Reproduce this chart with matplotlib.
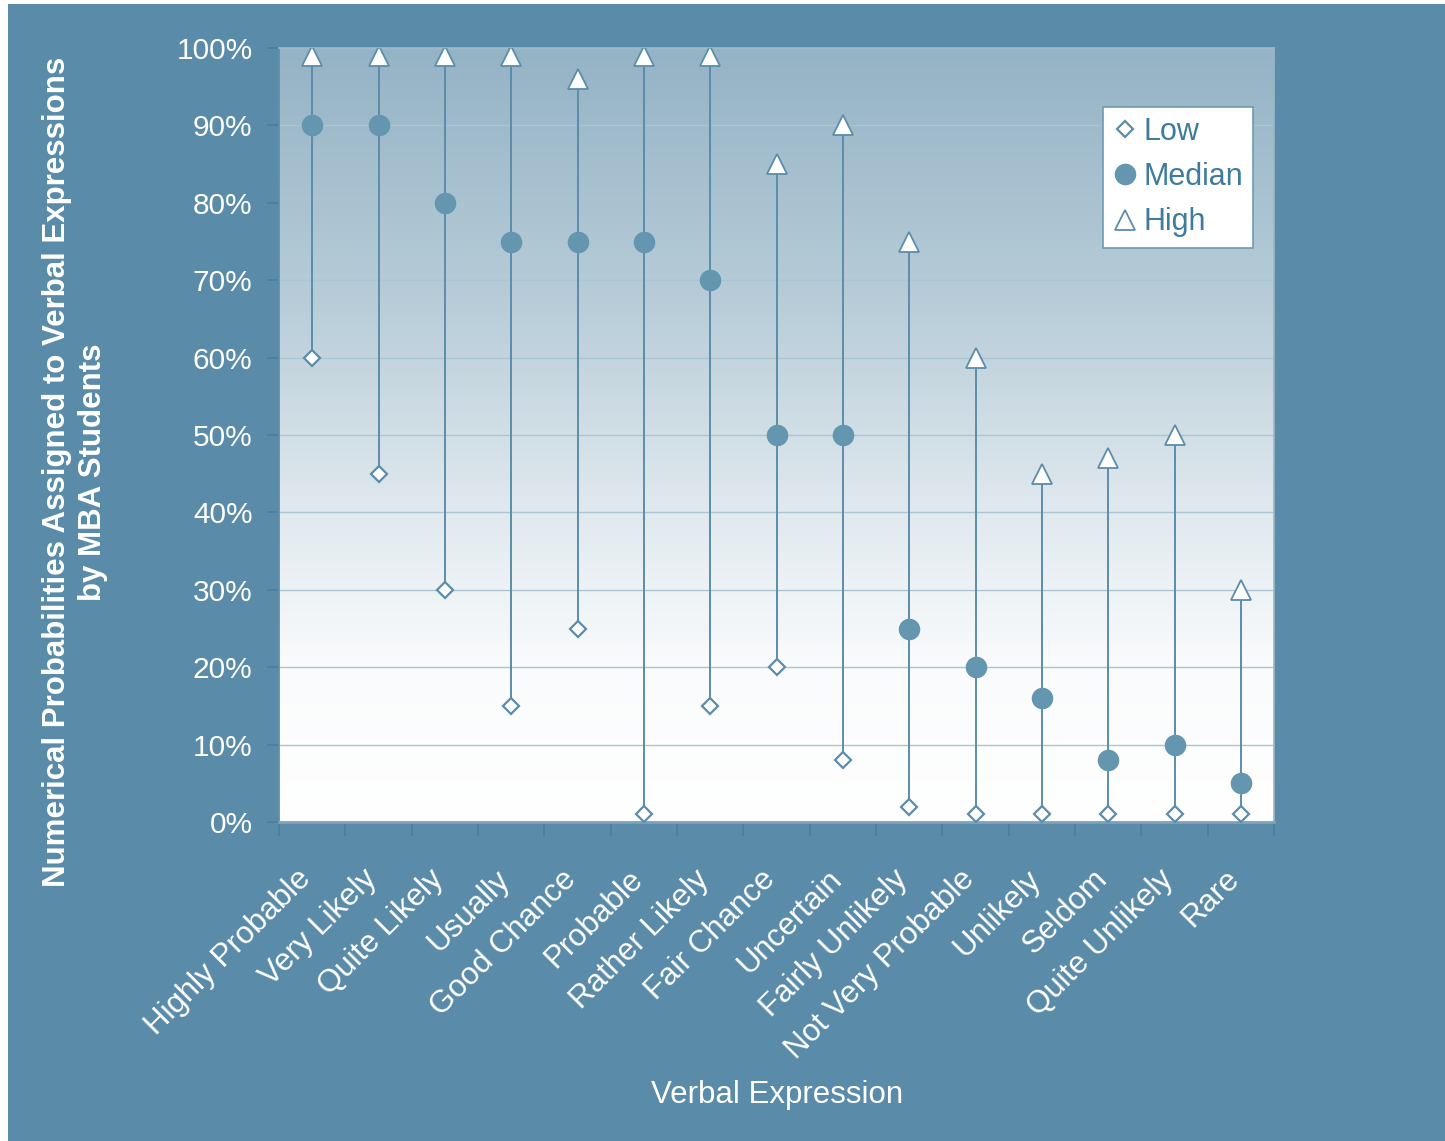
import numpy as np
import matplotlib
matplotlib.use("Agg")
import matplotlib.pyplot as plt
from matplotlib.patches import Rectangle
from matplotlib.colors import LinearSegmentedColormap
from matplotlib.ticker import FixedLocator, PercentFormatter

# data (percent)
expressions = ["Highly Probable", "Very Likely", "Quite Likely", "Usually",
               "Good Chance", "Probable", "Rather Likely", "Fair Chance",
               "Uncertain", "Fairly Unlikely", "Not Very Probable", "Unlikely",
               "Seldom", "Quite Unlikely", "Rare"]
low = [60, 45, 30, 15, 25, 1, 15, 20, 8, 2, 1, 1, 1, 1, 1]
median = [90, 90, 80, 75, 75, 75, 70, 50, 50, 25, 20, 16, 8, 10, 5]
high = [99, 99, 99, 99, 96, 99, 99, 85, 90, 75, 60, 45, 47, 50, 30]

bg = "#5a8ba8"
mark = "#5b8dab"
dot = "#6496b0"

plt.rcParams['font.family'] = ['Liberation Sans', 'DejaVu Sans']

fig = plt.figure(figsize=(14.45, 11.41), dpi=100, facecolor="white")
fig.patches.append(Rectangle((8 / 1445, 0), 1, 1137 / 1141, transform=fig.transFigure,
                             facecolor=bg, edgecolor="none", zorder=-10))

ax = fig.add_axes([279 / 1445, 319 / 1141, 995 / 1445, 774 / 1141])
ax.set_facecolor("white")

# vertical gradient for the plot area (white at the bottom, blue-grey at the top)
top_col = np.array([0x94, 0xb3, 0xc5]) / 255
def mix(f):
    return tuple(1 - f * (1 - top_col))
cmap = LinearSegmentedColormap.from_list(
    "bgfade", [(0.0, mix(0.0)), (0.2, mix(0.05)), (0.41, mix(0.30)),
               (0.67, mix(0.66)), (1.0, mix(1.0))])
grad = np.linspace(0, 1, 256).reshape(-1, 1)
ax.imshow(grad, cmap=cmap, origin="lower", extent=[0, 1, 0, 1], transform=ax.transAxes,
          aspect="auto", zorder=0)

x = np.arange(len(expressions))
ax.set_xlim(-0.5, len(expressions) - 0.5)
ax.set_ylim(0, 100)

ax.set_axisbelow(True)
ax.yaxis.grid(True, color="#abc5d4", linewidth=1.0, zorder=1)

ax.vlines(x, low, high, color=mark, linewidth=1.4, zorder=2)
ax.plot(x, low, linestyle="none", marker="D", markersize=8, markerfacecolor="white",
        markeredgecolor=mark, markeredgewidth=1.6, label="Low", zorder=3)
ax.plot(x, median, linestyle="none", marker="o", markersize=14.5, markerfacecolor=dot,
        markeredgecolor=dot, label="Median", zorder=3)
ax.plot(x, high, linestyle="none", marker="^", markersize=15, markerfacecolor="white",
        markeredgecolor=mark, markeredgewidth=1.3, label="High", zorder=3)

# axes styling
ax.yaxis.set_major_locator(FixedLocator(np.arange(0, 101, 10)))
ax.yaxis.set_major_formatter(PercentFormatter(decimals=0))
ax.tick_params(axis="y", length=9, width=1.3, color="#4a809f", labelcolor="white",
               labelsize=21.5, pad=10)

ax.set_xticks(x)
ax.set_xticklabels(expressions, rotation=45, ha="right", va="baseline",
                   rotation_mode="anchor")
ax.set_xticks(np.arange(-0.5, len(expressions), 1), minor=True)
ax.tick_params(axis="x", which="major", length=0, labelcolor="white", labelsize=22.5, pad=42)
ax.tick_params(axis="x", which="minor", length=10, width=1.3, color="#4a809f")

for side in ["right", "top"]:
    ax.spines[side].set_color("#9ab8c9")
    ax.spines[side].set_linewidth(1.2)
ax.spines["left"].set_color("#5f8fab")
ax.spines["left"].set_linewidth(1.3)
ax.spines["bottom"].set_color("#7ea3ba")
ax.spines["bottom"].set_linewidth(2)

fig.text(777 / 1445, 1 - 1095 / 1141, "Verbal Expression", color="white", fontsize=22.5,
         ha="center", va="center")
fig.text(75 / 1445, 1 - 472 / 1141,
         "Numerical Probabilities Assigned to Verbal Expressions\nby MBA Students",
         rotation=90, ha="center", va="center", color="white", fontsize=22.5,
         fontweight="bold", linespacing=1.25)

leg = ax.legend(loc="upper right", bbox_to_anchor=(0.979, 0.924), borderaxespad=0,
                fontsize=22, frameon=True, fancybox=False, handlelength=0.8,
                handletextpad=0.2, labelspacing=0.5, borderpad=0.33)
leg.get_frame().set_edgecolor("#6f9ab3")
leg.get_frame().set_linewidth(1.2)
leg.get_frame().set_facecolor("white")
leg.get_frame().set_alpha(1)
for t in leg.get_texts():
    t.set_color("#3f7c9c")

fig.savefig("out.png", dpi=100, facecolor=fig.get_facecolor())
